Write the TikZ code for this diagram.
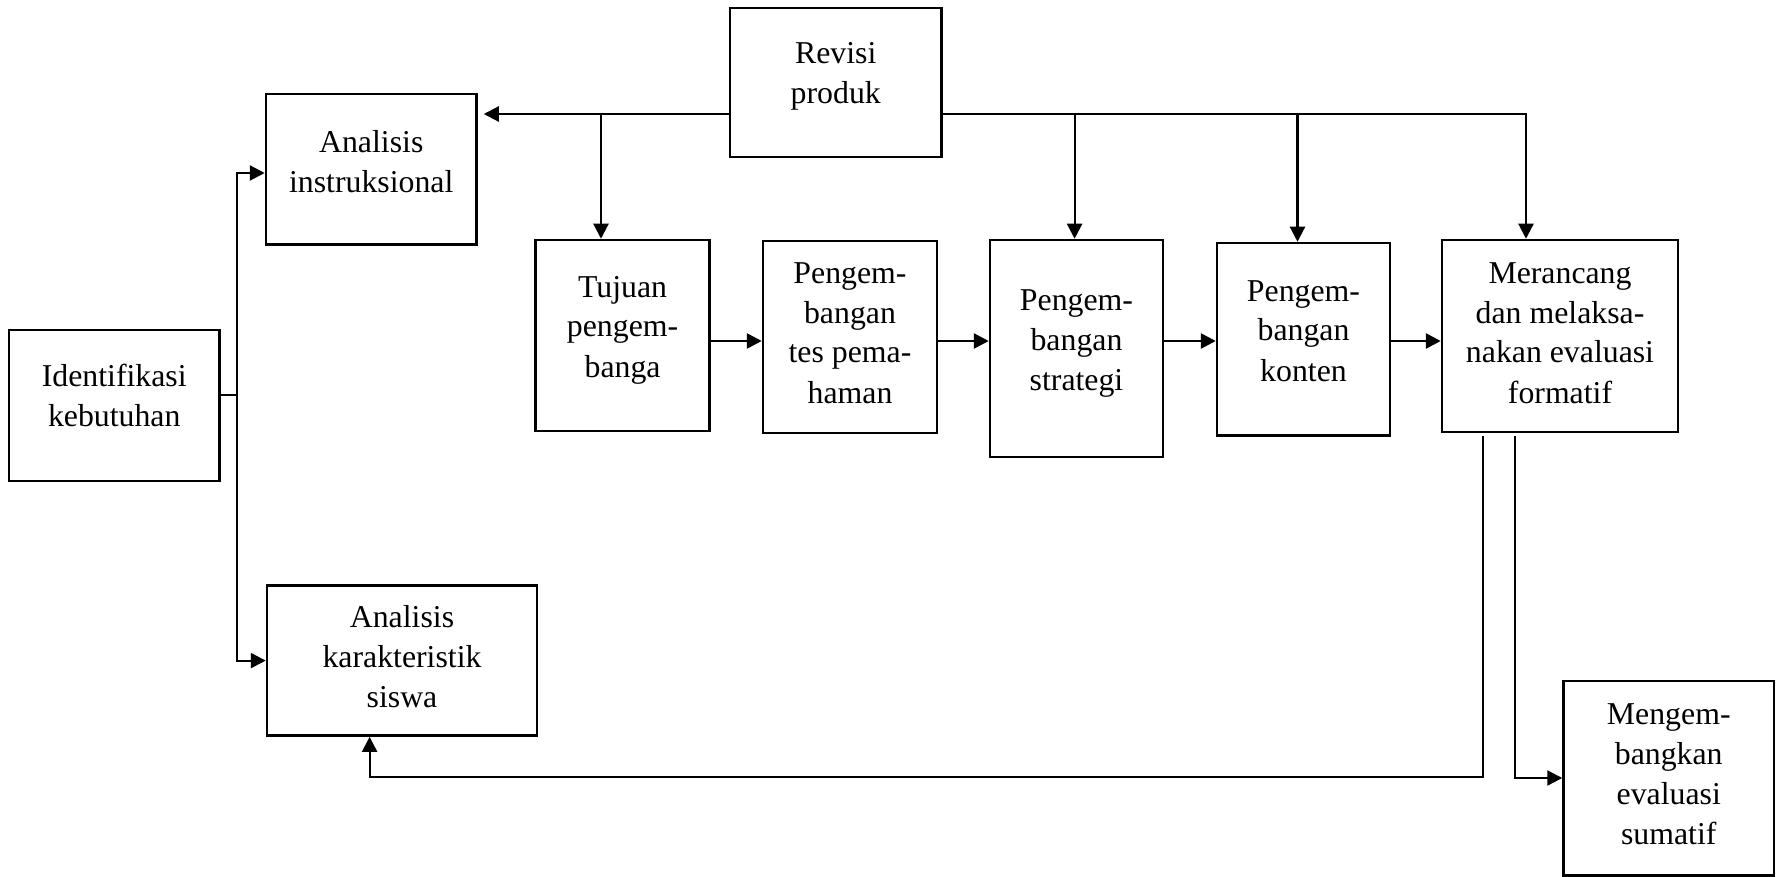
\documentclass[tikz,border=0pt]{standalone}
\usepackage{fontspec}
\setmainfont{Liberation Serif}
\usetikzlibrary{arrows.meta,calc}
\begin{document}
\begin{tikzpicture}[x=1pt,y=-1pt,
  box/.style={draw, line width=2.5pt, inner sep=0pt},
  txt/.style={align=center, inner sep=0pt, font=\fontsize{31.8}{40}\selectfont},
  conn/.style={line width=2.2pt},
  arr/.style={line width=2.2pt, -{Triangle[length=15pt,width=15pt]}},
  harr/.style={line width=2.7pt, -{Triangle[length=15pt,width=15pt]}}]
\useasboundingbox (0,0) rectangle (1783,877);
% boxes
\node[box, minimum width=211.5pt, minimum height=149pt] (rev) at (835.75,82.5) {};
\node[box, minimum width=210.5pt, minimum height=150.5pt] (ai) at (371.25,169.25) {};
\node[box, minimum width=210.5pt, minimum height=151pt] (ik) at (114.25,405.5) {};
\node[box, minimum width=270pt, minimum height=150pt] (aks) at (402,660.6) {};
\node[box, minimum width=174pt, minimum height=191pt] (tuj) at (622.6,335.5) {};
\node[box, minimum width=174pt, minimum height=192pt] (tes) at (850,337) {};
\node[box, minimum width=173pt, minimum height=217pt] (str) at (1076.5,348.5) {};
\node[box, minimum width=173pt, minimum height=192.5pt] (kon) at (1303.5,339.25) {};
\node[box, minimum width=236pt, minimum height=192pt] (mer) at (1560,336) {};
\node[box, minimum width=210.5pt, minimum height=194.6pt] (sum) at (1668.75,778.3) {};
% texts
\node[txt] (revT) at (835.75,76) {\strut Revisi\\produk\strut};
\node[txt] (aiT) at (371.25,164.5) {\strut Analisis\\instruksional\strut};
\node[txt] (ikT) at (114.25,398) {\strut Identifikasi\\kebutuhan\strut};
\node[txt] (aksT) at (402,659) {\strut Analisis\\karakteristik\\siswa\strut};
\node[txt] (tujT) at (622.6,329) {\strut Tujuan\\pengem-\\banga\strut};
\node[txt] (tesT) at (850,335) {\strut Pengem-\\bangan\\tes pema-\\haman\strut};
\node[txt] (strT) at (1076.5,342) {\strut Pengem-\\bangan\\strategi\strut};
\node[txt] (konT) at (1303.5,333) {\strut Pengem-\\bangan\\konten\strut};
\node[txt] (merT) at (1560,335) {\strut Merancang\\dan melaksa-\\nakan evaluasi\\formatif\strut};
\node[txt] (sumT) at (1668.75,776) {\strut Mengem-\\bangkan\\evaluasi\\sumatif\strut};
% top connectors
\coordinate (ytop) at (0,114);
\coordinate (j1) at (601,114);
\draw[arr, shorten >=6pt] (rev.west |- ytop) -- (ai.east |- ytop);
\draw[arr] (j1) -- (j1 |- tuj.north);
\coordinate (jm) at (1526,114);
\coordinate (js) at (1074.6,114);
\coordinate (jk) at (1297.5,114);
\draw[arr] (rev.east |- jm) -- (jm) -- (jm |- mer.north);
\draw[arr] (js) -- (js |- str.north);
\draw[arr] (jk) -- (jk |- kon.north);
% left connectors
\coordinate (jl) at (237,394.6);
\coordinate (ya) at (0,173);
\draw[conn] (ik.east |- jl) -- (jl);
\draw[arr] (jl) |- (ai.west |- ya);
\draw[arr] (jl) |- (aks.west);
% middle arrows
\coordinate (ym) at (0,341);
\draw[harr] (tuj.east |- ym) -- (tes.west |- ym);
\draw[harr] (tes.east |- ym) -- (str.west |- ym);
\draw[harr] (str.east |- ym) -- (kon.west |- ym);
\draw[harr] (kon.east |- ym) -- (mer.west |- ym);
% bottom connectors
\coordinate (b1) at (1482.8,436);
\coordinate (ba) at (369.6,776.6);
\draw[arr] (b1) |- (ba) -- (ba |- aks.south);
\coordinate (b2) at (1514.6,436);
\coordinate (yb) at (0,778);
\draw[arr] (b2) |- (sum.west |- yb);
\end{tikzpicture}
\end{document}
